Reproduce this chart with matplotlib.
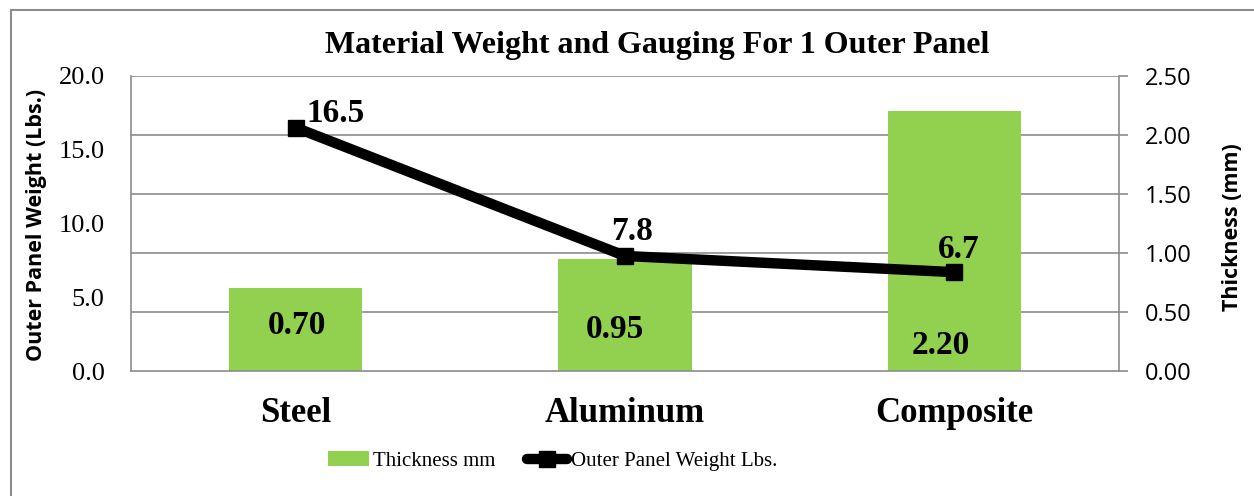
import matplotlib.pyplot as plt
from matplotlib.patches import Rectangle
import numpy as np

materials = ['Steel', 'Aluminum', 'Composite']
thickness_mm = [0.70, 0.95, 2.20]
weight_lbs = [16.5, 7.8, 6.7]
thick_labels = ['0.70', '0.95', '2.20']
weight_labels = ['16.5', '7.8', '6.7']

serif = ['Liberation Serif', 'DejaVu Serif']
sans = ['Open Sans', 'DejaVu Sans']
green = '#92D050'
gridc = '#8c8c8c'

fig = plt.figure(figsize=(12.54, 4.96), dpi=100)
# outer chart border
fig.patches.append(Rectangle((11/1254, -0.1), 1.2, 1 - 10/496 + 0.1, transform=fig.transFigure,
                             fill=False, edgecolor='#8c8c8c', linewidth=1.5))

ax = fig.add_axes([131/1254, 1 - 371/496, (1119-131)/1254, (371-76)/496])
ax2 = ax.twinx()
x = np.arange(len(materials))

# bars on secondary axis (thickness), line on primary (weight)
ax2.bar(x, thickness_mm, width=0.405, color=green, zorder=2, label='Thickness mm')
ax2.set_ylim(0, 2.5)
ax2.set_yticks(np.arange(0, 2.51, 0.5))
ax2.set_yticklabels(['%.2f' % v for v in np.arange(0, 2.51, 0.5)], fontfamily=sans, fontsize=17)
ax2.tick_params(axis='y', length=6.5, width=1.2, color=gridc, pad=12)

ax.set_zorder(ax2.get_zorder() + 1)
ax.patch.set_visible(False)
ax.plot(x, weight_lbs, color='black', linewidth=7.5, marker='s', markersize=12, zorder=5,
        solid_capstyle='round', label='Outer Panel Weight Lbs.')
ax.set_ylim(0, 20)
ax.set_xlim(-0.5, 2.5)
ax.set_yticks(np.arange(0, 20.1, 5))
ax.set_yticklabels(['%.1f' % v for v in np.arange(0, 20.1, 5)], fontfamily=serif, fontsize=19)
ax.tick_params(axis='y', length=0, pad=19)
ax.tick_params(axis='x', length=0, pad=19)
ax.set_xticks(x)
ax.set_xticklabels(materials, fontfamily=serif, fontsize=25, fontweight='bold')

fig.text(37/1254, 1 - 225/496, 'Outer Panel Weight (Lbs.)', rotation=90, ha='center', va='center',
         fontfamily=sans, fontsize=15.5, fontweight='bold')
fig.text(1233/1254, 1 - 227/496, 'Thickness (mm)', rotation=90, ha='center', va='center',
         fontfamily=sans, fontsize=15.5, fontweight='bold')

# horizontal gridlines drawn on the bar axis so they sit behind the bars
for v in np.arange(0.5, 2.51, 0.5):
    ax2.axhline(v, color=gridc, linewidth=1.2, zorder=1)

for a in (ax, ax2):
    for s in a.spines.values():
        s.set_visible(False)
ax.spines['left'].set_visible(True)
ax.spines['left'].set_color(gridc)
ax.spines['left'].set_linewidth(1.2)
ax.spines['bottom'].set_visible(True)
ax.spines['bottom'].set_color(gridc)
ax.spines['bottom'].set_linewidth(1.2)
ax2.spines['right'].set_visible(True)
ax2.spines['right'].set_color(gridc)
ax2.spines['right'].set_linewidth(1.2)

# data labels
bar_offsets = [(1, 33), (-7, 30), (-10, 18.5)]
for i, lab in enumerate(thick_labels):
    ax2.annotate(lab, (x[i], 0), xytext=bar_offsets[i], textcoords='offset points',
                 ha='center', va='center', fontfamily=serif, fontsize=24, fontweight='bold', zorder=6)
line_offsets = [(29, 10), (5, 17.5), (3, 16.5)]
for i, lab in enumerate(weight_labels):
    ax.annotate(lab, (x[i], weight_lbs[i]), xytext=line_offsets[i], textcoords='offset points',
                ha='center', va='center', fontfamily=serif, fontsize=24, fontweight='bold', zorder=6)

fig.text(657/1254, 1 - 45/496, 'Material Weight and Gauging For 1 Outer Panel', ha='center', va='center',
         fontfamily=serif, fontsize=23, fontweight='bold')

h1, l1 = ax2.get_legend_handles_labels()
h2, l2 = ax.get_legend_handles_labels()
fig.legend(h1 + h2, l1 + l2, loc='center', bbox_to_anchor=(553/1254, 1 - 461/496), ncol=2,
           frameon=False, prop={'family': serif, 'size': 15}, handlelength=1.95,
           handleheight=0.7, handletextpad=0.2, columnspacing=1.5)

fig.savefig('out.png', dpi=100)
